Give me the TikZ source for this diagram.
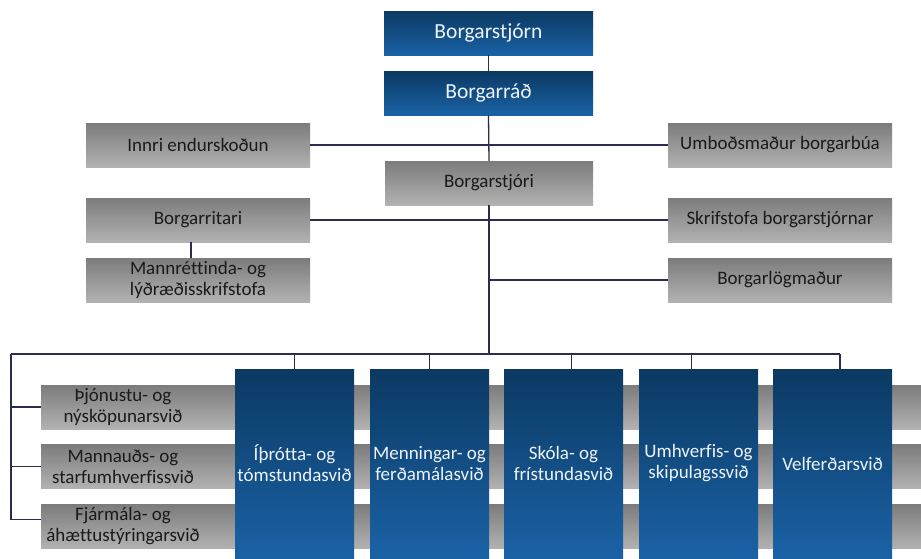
\documentclass[tikz,border=0pt]{standalone}
\usepackage{fontspec}
\setmainfont[Ligatures=NoCommon]{Carlito}
\definecolor{lineC}{HTML}{2B2D4F}
\definecolor{blueTop}{HTML}{0B3962}
\definecolor{blueBot}{HTML}{1A62A6}
\definecolor{grayTop}{HTML}{7C7C7C}
\definecolor{grayBot}{HTML}{B2B2B2}
\definecolor{txtW}{HTML}{EEF3F8}
\definecolor{txtD}{HTML}{1A1A1A}
\tikzset{
  bluebox/.style={inner sep=0pt, top color=blueTop, bottom color=blueBot, text=txtW, align=center, font=\fontsize{19}{21}\selectfont},
  topbox/.style={bluebox, font=\fontsize{21.5}{24}\selectfont, minimum width=209pt, minimum height=44pt},
  graybox/.style={inner sep=0pt, top color=grayTop, bottom color=grayBot, text=txtD, align=center, font=\fontsize{19}{21}\selectfont, minimum width=224pt, minimum height=44pt},
  stripe/.style={inner sep=0pt, top color=grayTop, bottom color=grayBot, text=txtD, align=center, font=\fontsize{19}{21}\selectfont, minimum width=164pt, minimum height=44pt},
  division/.style={bluebox, minimum width=119pt, minimum height=189pt, text depth=-6pt},
  conn/.style={draw=lineC, line width=1.3pt},
}
\begin{document}
\begin{tikzpicture}[x=1pt,y=-1pt]
\fill[white] (0,0) rectangle (921,558);
\useasboundingbox (0,0) rectangle (921,558);
% top blue boxes
\node[topbox] (stjorn) at (488.5,33) {Borgarstjórn};
\node[topbox] (rad) at (488.5,93) {Borgarráð};
% gray boxes
\node[graybox] (innri) at (198,145) {Innri endurskoðun};
\node[graybox] (umbod) at (780,145) {Umboðsmaður borgarbúa};
\node[graybox, minimum width=208pt] (stjori) at (489,183) {Borgarstjóri};
\node[graybox] (ritari) at (198,220) {Borgarritari};
\node[graybox] (skrif) at (780,220) {Skrifstofa borgarstjórnar};
\node[graybox] (mann) at (198,280) {Mannréttinda- og\\lýðræðisskrifstofa};
\node[graybox] (logm) at (780,280) {Borgarlögmaður};
% connectors upper
\draw[conn] (stjorn.south) -- (rad.north);
\draw[conn] (rad.south) -- (stjori.north);
\draw[conn] (innri.east) -- (umbod.west);
\draw[conn] (ritari.east) -- (skrif.west);
\draw[conn] ([xshift=-7pt]ritari.south) -- ([xshift=-7pt]mann.north);
\coordinate (bar) at (489,354);
\draw[conn] (stjori.south) -- (bar);
\draw[conn] (logm.west) -- (logm.west -| stjori.south);
% stripes behind
\shade[top color=grayTop, bottom color=grayBot] (205,385) rectangle (921,429);
\shade[top color=grayTop, bottom color=grayBot] (205,444.5) rectangle (921,488.5);
\shade[top color=grayTop, bottom color=grayBot] (205,504.5) rectangle (921,548.5);
\node[stripe] (thjon) at (123,407) {Þjónustu- og\\nýsköpunarsvið};
\node[stripe] (mannaud) at (123,466.5) {Mannauðs- og\\starfumhverfissvið};
\node[stripe] (fjarm) at (123,526.5) {Fjármála- og\\áhættustýringarsvið};
% blue divisions
\node[bluebox, minimum width=119pt, minimum height=189pt] (ithr) at (294.5,463.5) {Íþrótta- og\\tómstundasvið};
\node[bluebox, minimum width=119pt, minimum height=189pt] (menn) at (429.5,463.5) {Menningar- og\\ferðamálasvið};
\node[bluebox, minimum width=119pt, minimum height=189pt] (skola) at (563.5,463.5) {Skóla- og\\frístundasvið};
\node[bluebox, minimum width=119pt, minimum height=189pt] (umhv) at (698.5,463.5) {Umhverfis- og\\skipulagssvið};
\node[bluebox, minimum width=119pt, minimum height=189pt] (velf) at (832.5,463.5) {Velferðarsvið};
% bottom bar
\coordinate (barL) at (11,354);
\coordinate (barR) at (840,354);
\draw[conn] (barL) -- (barR);
\draw[conn] (ithr.north) -- (ithr.north |- bar);
\draw[conn] (menn.north) -- (menn.north |- bar);
\draw[conn] ([xshift=8pt]skola.north) -- ([xshift=8pt]skola.north |- bar);
\draw[conn] ([xshift=-7pt]umhv.north) -- ([xshift=-7pt]umhv.north |- bar);
\draw[conn] ([xshift=7.5pt]velf.north) -- (barR);
\draw[conn] (barL) |- ([yshift=7pt]fjarm.west);
\draw[conn] (thjon.west) -- (thjon.west -| barL);
\draw[conn] (mannaud.west) -- (mannaud.west -| barL);
\end{tikzpicture}
\end{document}
